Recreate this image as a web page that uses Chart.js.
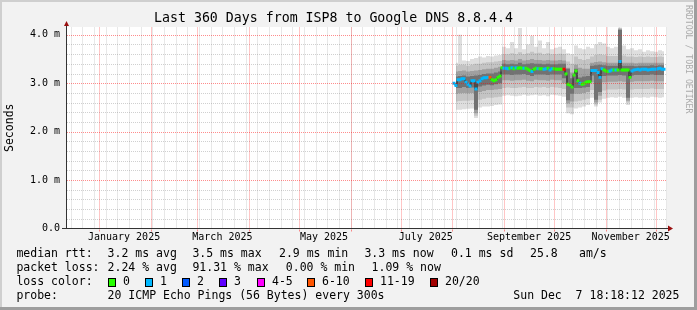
<!DOCTYPE html>
<html lang="en">
<head>
  <meta charset="UTF-8">
  <title>Last 360 Days from ISP8 to Google DNS 8.8.4.4</title>
  <script src="https://cdn.jsdelivr.net/npm/chart.js"></script>
  <style>
    body {
      margin: 0;
      padding: 0;
      background: #f2f2f2;
    }
    #wrap {
      width: 697px;
      height: 310px;
    }
  </style>
</head>
<body>
  <div id="wrap"><canvas id="smokeChart" width="697" height="310"></canvas></div>
  <script>
    const FONT = '"DejaVu Sans Mono", "Liberation Mono", monospace';
    const DAY_MS = 86400000;
    const windowStart = Date.UTC(2024, 11, 12, 18, 18, 12); // graph covers 360 days up to Dec 7 2025
    const windowDays = 360;

    // median rtt in ms, one value every 1.2 days
    const medianFirstDay = 232.2;
    const medianStep = 1.2;
    const medianRtt = [
      3.00, 2.95, 3.07, 3.07, 3.09, 3.09, 3.02, 2.98, 2.94, 3.05,
      3.05, 2.88, 3.02, 3.05, 3.09, 3.11, 3.11, 3.12, 3.12, 3.07,
      3.05, 3.07, 3.12, 3.15, 3.32, 3.31, 3.31, 3.30, 3.31, 3.32,
      3.30, 3.32, 3.31, 3.32, 3.31, 3.31, 3.31, 3.29, 3.26, 3.24,
      3.29, 3.31, 3.30, 3.30, 3.30, 3.29, 3.30, 3.31, 3.27, 3.30,
      3.30, 3.29, 3.29, 3.29, 3.29, 3.29, 3.19, 2.98, 2.96, 2.92,
      3.17, 3.25, 3.05, 3.00, 2.98, 2.99, 3.02, 3.03, 3.03, 3.26,
      3.26, 3.26, 3.22, 3.12, 3.30, 3.27, 3.25, 3.24, 3.25, 3.27,
      3.27, 3.27, 3.27, 3.45, 3.27, 3.27, 3.27, 3.27, 3.12, 3.25,
      3.27, 3.28, 3.29, 3.27, 3.29, 3.29, 3.29, 3.27, 3.28, 3.29,
      3.29, 3.29, 3.30, 3.31, 3.29, 3.29
    ];
    // loss bucket of each median point (index into lossLabels)
    const medianLoss = [
      1, 1, 1, 1, 1, 1, 1, 1, 1, 1,
      1, 1, 1, 1, 1, 1, 1, 1, 5, 0,
      0, 0, 0, 0, 0, 1, 1, 1, 0, 1,
      0, 1, 0, 0, 0, 1, 0, 0, 0, 1,
      0, 0, 1, 0, 0, 1, 1, 0, 1, 1,
      0, 0, 0, 0, 0, 6, 0, 0, 0, 0,
      0, 0, 0, 1, 0, 0, 0, 0, 0, 1,
      1, 1, 1, 1, 1, 0, 0, 0, 1, 1,
      0, 1, 0, 1, 0, 0, 0, 0, 0, 1,
      1, 1, 1, 1, 1, 1, 1, 1, 1, 1,
      1, 1, 1, 1, 1, 1
    ];

    // smoke (spread of the 20 pings), one column every 2.4 days
    const smokeFirstDay = 233.4;
    const smokeStep = 2.4;
    const smokeOuterHi = [
      3.42, 4.00, 3.47, 3.46, 3.50, 3.52, 3.55, 3.53, 3.56, 3.55, 3.57, 3.58,
      3.75, 3.72, 3.85, 3.72, 4.14, 3.70, 3.80, 3.98, 3.75, 3.88, 3.72, 3.85, 3.70, 3.73, 3.75, 3.70,
      3.62, 3.60, 3.78, 3.72, 3.70, 3.75,
      3.72, 3.80, 3.85, 3.82, 3.75, 3.72, 3.75, 4.15, 3.78, 3.70, 3.72, 3.68, 3.70, 3.65, 3.68, 3.66, 3.65, 3.68, 3.66
    ];
    const smokeOuterLo = [
      2.45, 2.45, 2.46, 2.47, 2.48, 2.28, 2.50, 2.52, 2.52, 2.53, 2.55, 2.56,
      2.74, 2.75, 2.74, 2.73, 2.74, 2.76, 2.74, 2.75, 2.76, 2.74, 2.75, 2.73, 2.76, 2.75, 2.74, 2.72,
      2.38, 2.36, 2.48, 2.50, 2.52, 2.55,
      2.70, 2.52, 2.60, 2.68, 2.70, 2.71, 2.70, 2.72, 2.70, 2.55, 2.70, 2.71, 2.70, 2.71, 2.70, 2.72, 2.71, 2.70, 2.71
    ];
    const smokeMidHi = [
      3.36, 3.38, 3.38, 3.36, 3.38, 3.40, 3.40, 3.42, 3.43, 3.43, 3.45, 3.46,
      3.60, 3.60, 3.62, 3.60, 3.64, 3.60, 3.62, 3.65, 3.62, 3.63, 3.60, 3.62, 3.60, 3.60, 3.61, 3.60,
      3.45, 3.40, 3.55, 3.50, 3.48, 3.50,
      3.55, 3.58, 3.60, 3.58, 3.56, 3.56, 3.56, 4.14, 3.57, 3.55, 3.55, 3.54, 3.55, 3.54, 3.55, 3.54, 3.54, 3.55, 3.54
    ];
    const smokeMidLo = [
      2.62, 2.63, 2.64, 2.64, 2.65, 2.33, 2.66, 2.68, 2.70, 2.70, 2.71, 2.72,
      2.90, 2.91, 2.90, 2.90, 2.91, 2.92, 2.90, 2.90, 2.92, 2.91, 2.92, 2.90, 2.92, 2.91, 2.90, 2.88,
      2.50, 2.50, 2.62, 2.64, 2.66, 2.68,
      2.86, 2.56, 2.66, 2.85, 2.87, 2.87, 2.87, 2.88, 2.87, 2.60, 2.87, 2.88, 2.88, 2.88, 2.88, 2.89, 2.88, 2.88, 2.88
    ];
    const smokeInnerHi = [
      3.24, 3.25, 3.26, 3.24, 3.25, 3.26, 3.27, 3.29, 3.30, 3.30, 3.32, 3.34,
      3.48, 3.47, 3.48, 3.47, 3.50, 3.47, 3.48, 3.50, 3.48, 3.48, 3.47, 3.48, 3.47, 3.47, 3.48, 3.47,
      3.32, 3.22, 3.38, 3.32, 3.30, 3.30,
      3.42, 3.44, 3.45, 3.43, 3.42, 3.42, 3.42, 4.12, 3.42, 3.42, 3.42, 3.41, 3.42, 3.42, 3.42, 3.42, 3.42, 3.42, 3.42
    ];
    const smokeInnerLo = [
      2.78, 2.79, 2.80, 2.79, 2.80, 2.38, 2.82, 2.84, 2.86, 2.86, 2.87, 2.88,
      3.06, 3.06, 3.05, 3.06, 3.06, 3.07, 3.05, 3.04, 3.07, 3.06, 3.06, 3.05, 3.07, 3.06, 3.06, 3.00,
      2.58, 2.62, 2.78, 2.78, 2.80, 2.82,
      3.02, 2.60, 2.74, 3.02, 3.03, 3.03, 3.03, 3.04, 3.03, 2.64, 3.03, 3.04, 3.04, 3.04, 3.04, 3.05, 3.04, 3.04, 3.04
    ];
    const smokeCoreHi = [
      3.14, 3.15, 3.16, 3.14, 3.15, 3.16, 3.17, 3.19, 3.20, 3.20, 3.22, 3.24,
      3.40, 3.39, 3.40, 3.39, 3.42, 3.39, 3.40, 3.41, 3.40, 3.40, 3.39, 3.40, 3.39, 3.39, 3.40, 3.40,
      3.30, 3.10, 3.30, 3.12, 3.14, 3.15,
      3.36, 3.37, 3.38, 3.37, 3.36, 3.36, 3.36, 4.10, 3.36, 3.36, 3.36, 3.35, 3.36, 3.36, 3.36, 3.37, 3.36, 3.37, 3.37
    ];
    const smokeCoreLo = [
      2.90, 2.90, 2.92, 2.90, 2.91, 2.45, 2.93, 2.95, 2.97, 2.96, 2.98, 3.00,
      3.18, 3.18, 3.17, 3.18, 3.18, 3.19, 3.17, 3.15, 3.18, 3.18, 3.18, 3.17, 3.18, 3.18, 3.18, 3.10,
      2.65, 2.78, 2.90, 2.90, 2.91, 2.92,
      3.16, 2.66, 2.82, 3.15, 3.16, 3.16, 3.16, 3.17, 3.16, 2.70, 3.16, 3.17, 3.17, 3.17, 3.17, 3.18, 3.17, 3.17, 3.17
    ];

    const lossLabels = ['0', '1', '2', '3', '4-5', '6-10', '11-19', '20/20'];
    const lossColors = ['#26ff00', '#00b8ff', '#0059ff', '#5e00ff', '#ff00ff', '#ff5500', '#ff0000', '#a10000'];
    const monthLabels = ['January 2025', 'March 2025', 'May 2025', 'July 2025', 'September 2025', 'November 2025'];
    const yGridStep = 0.2;
    const yMax = 4.16;

    const titleText = 'Last 360 Days from ISP8 to Google DNS 8.8.4.4';
    const rttStats = ['3.2 ms avg', '3.5 ms max', '2.9 ms min', '3.3 ms now', '0.1 ms sd', '25.8', 'am/s'];
    const lossStats = ['2.24 % avg', '91.31 % max', '0.00 % min', '1.09 % now'];
    const probeText = '20 ICMP Echo Pings (56 Bytes) every 300s';
    const stampText = 'Sun Dec  7 18:18:12 2025';

    // x axis is "days since window start"
    const dayOf = (y, m, d) => (Date.UTC(y, m, d) - windowStart) / DAY_MS;
    const xTicks = [];
    for (let d = dayOf(2024, 11, 15); d < windowDays; d += 7) xTicks.push({ day: d, kind: 'week', label: '' });
    for (let m = 0; m < 12; m++) xTicks.push({ day: dayOf(2025, m, 1), kind: 'month', label: '' });
    monthLabels.forEach((text, k) => xTicks.push({ day: dayOf(2025, 2 * k, 16), kind: 'label', label: text }));
    xTicks.sort((a, b) => a.day - b.day);

    const yTicks = [];
    for (let k = 0; k * yGridStep <= 4.0001; k++) yTicks.push({ value: +(k * yGridStep).toFixed(1), major: k % 5 === 0 });

    const MAJOR = 'rgba(255, 0, 0, 0.45)';
    const MINOR = 'rgba(120, 120, 120, 0.35)';
    const NONE = 'rgba(0, 0, 0, 0)';

    const toPoints = (first, step, values) => values.map((v, i) => ({ x: first + i * step, y: v }));

    function smokeBand(lo, hi, color, order) {
      const common = {
        borderColor: NONE,
        borderWidth: 0,
        pointRadius: 0,
        stepped: 'middle',
        order: order,
      };
      return [
        Object.assign({ data: toPoints(smokeFirstDay, smokeStep, lo), fill: false }, common),
        Object.assign({ data: toPoints(smokeFirstDay, smokeStep, hi), fill: '-1', backgroundColor: color }, common),
      ];
    }

    const medianPoints = toPoints(medianFirstDay, medianStep, medianRtt);

    const datasets = [
      ...smokeBand(smokeOuterLo, smokeOuterHi, '#dedede', 10),
      ...smokeBand(smokeMidLo, smokeMidHi, '#c4c4c4', 9),
      ...smokeBand(smokeInnerLo, smokeInnerHi, '#a0a0a0', 8),
      ...smokeBand(smokeCoreLo, smokeCoreHi, '#727272', 7),
      {
        // thin connector between median steps
        data: medianPoints,
        borderColor: '#202020',
        borderWidth: 1,
        stepped: 'middle',
        pointRadius: 0,
        fill: false,
        order: 1,
      },
      {
        data: medianPoints,
        showLine: false,
        pointStyle: 'rect',
        pointRadius: 2.12,
        pointBorderWidth: 0,
        pointBackgroundColor: medianLoss.map(k => lossColors[k]),
        fill: false,
        order: 0,
      },
    ];

    // dotted rrdtool style grid, placed with the chart's own scales
    const rrdGrid = {
      id: 'rrdGrid',
      afterDatasetsDraw(chart) {
        const { ctx, chartArea: a, scales } = chart;
        ctx.save();
        ctx.lineWidth = 1;
        ctx.setLineDash([1, 1]);
        [false, true].forEach(major => {
          ctx.strokeStyle = major ? MAJOR : MINOR;
          ctx.beginPath();
          yTicks.filter(t => t.major === major && t.value > 0).forEach(t => {
            const py = Math.round(scales.y.getPixelForValue(t.value)) + 0.5;
            ctx.moveTo(a.left, py);
            ctx.lineTo(a.right, py);
          });
          xTicks.filter(t => t.kind === (major ? 'month' : 'week')).forEach(t => {
            const px = Math.round(scales.x.getPixelForValue(t.day)) + 0.5;
            ctx.moveTo(px, a.bottom);
            ctx.lineTo(px, a.top);
          });
          ctx.stroke();
        });
        // short marks under the time axis
        ctx.setLineDash([]);
        ctx.strokeStyle = MAJOR;
        ctx.beginPath();
        xTicks.filter(t => t.kind === 'month').forEach(t => {
          const px = Math.round(scales.x.getPixelForValue(t.day)) + 0.5;
          ctx.moveTo(px, a.bottom + 1);
          ctx.lineTo(px, a.bottom + 3);
        });
        ctx.stroke();
        ctx.restore();
      },
    };

    // background, frame, axes with arrows, watermark and the text legend
    const rrdDecor = {
      id: 'rrdDecor',
      beforeDraw(chart) {
        const { ctx, chartArea: a, width, height } = chart;
        ctx.save();
        ctx.fillStyle = '#f2f2f2';
        ctx.fillRect(0, 0, width, height);
        ctx.fillStyle = '#cfcfcf';
        ctx.fillRect(0, 0, width, 2);
        ctx.fillRect(0, 0, 2, height);
        ctx.fillStyle = '#9e9e9e';
        ctx.fillRect(0, height - 3, width, 3);
        ctx.fillRect(width - 3, 0, 3, height);
        ctx.fillStyle = '#ffffff';
        ctx.fillRect(a.left, a.top, a.right - a.left, a.bottom - a.top);
        ctx.restore();
      },
      afterDraw(chart) {
        const { ctx, chartArea: a } = chart;
        ctx.save();

        // axes
        ctx.strokeStyle = '#333333';
        ctx.lineWidth = 1;
        ctx.beginPath();
        ctx.moveTo(a.left - 0.5, a.bottom + 0.5);
        ctx.lineTo(a.left - 0.5, a.top - 1);
        ctx.moveTo(a.left - 5, a.bottom);
        ctx.lineTo(a.right + 1, a.bottom);
        ctx.stroke();

        ctx.fillStyle = '#9a1010';
        ctx.beginPath();
        ctx.moveTo(a.left - 3, a.top - 1);
        ctx.lineTo(a.left + 2, a.top - 1);
        ctx.lineTo(a.left - 0.5, a.top - 6);
        ctx.closePath();
        ctx.fill();
        ctx.beginPath();
        ctx.moveTo(a.right + 1, a.bottom - 3);
        ctx.lineTo(a.right + 1, a.bottom + 3);
        ctx.lineTo(a.right + 6, a.bottom);
        ctx.closePath();
        ctx.fill();

        // watermark
        ctx.save();
        ctx.translate(688, 5);
        ctx.rotate(Math.PI / 2);
        ctx.font = '8.2px ' + FONT;
        ctx.fillStyle = '#ababab';
        ctx.textBaseline = 'middle';
        ctx.textAlign = 'left';
        ctx.fillText('RRDTOOL / TOBI OETIKER', 0, 0);
        ctx.restore();

        // legend rows
        const rows = [254.3, 268.3, 282.3, 296.3];
        const rttCols = [107.6, 192.4, 279, 364.4, 451, 530, 579];
        const lossCols = [107.6, 192.4, 285.8, 371.6];
        const swatchCols = [108, 145, 182, 219, 257, 307, 365, 430];
        ctx.font = '11.5px ' + FONT;
        ctx.fillStyle = '#000000';
        ctx.textBaseline = 'middle';
        ctx.textAlign = 'left';
        ctx.fillText('median rtt:', 16.4, rows[0]);
        rttStats.forEach((t, i) => ctx.fillText(t, rttCols[i], rows[0]));
        ctx.fillText('packet loss:', 16.4, rows[1]);
        lossStats.forEach((t, i) => ctx.fillText(t, lossCols[i], rows[1]));
        ctx.fillText('loss color:', 16.4, rows[2]);
        lossLabels.forEach((t, i) => {
          const x = swatchCols[i];
          ctx.fillStyle = lossColors[i];
          ctx.fillRect(x, 278, 8, 9);
          ctx.strokeStyle = '#000000';
          ctx.strokeRect(x + 0.5, 278.5, 7, 8);
          ctx.fillStyle = '#000000';
          ctx.fillText(t, x + 15, rows[2]);
        });
        ctx.fillText('probe:', 16.4, rows[3]);
        ctx.fillText(probeText, 107.6, rows[3]);
        ctx.fillText(stampText, 513.3, rows[3]);
        ctx.restore();
      },
    };

    new Chart(document.getElementById('smokeChart'), {
      type: 'line',
      data: { datasets },
      plugins: [rrdGrid, rrdDecor],
      options: {
        responsive: false,
        animation: false,
        events: [],
        layout: { padding: { top: 0, left: 0, right: 30, bottom: 0 } },
        plugins: {
          legend: { display: false },
          tooltip: { enabled: false },
          title: {
            display: true,
            text: titleText,
            color: '#000000',
            font: { family: FONT, size: 13.25, weight: 'normal' },
            padding: { top: 10.5, bottom: 0.6 },
          },
        },
        scales: {
          x: {
            type: 'linear',
            min: 0,
            max: windowDays,
            afterBuildTicks: (scale) => { scale.ticks = xTicks.map(t => ({ value: t.day })); },
            afterFit: (scale) => { scale.height = 81.5; },
            ticks: {
              autoSkip: false,
              maxRotation: 0,
              minRotation: 0,
              padding: 3,
              color: '#000000',
              font: { family: FONT, size: 10 },
              callback: (value, index) => xTicks[index].label,
            },
            grid: { display: false, drawTicks: false, tickLength: 0 },
            border: { display: false },
          },
          y: {
            type: 'linear',
            min: 0,
            max: yMax,
            afterBuildTicks: (scale) => { scale.ticks = yTicks.map(t => ({ value: t.value })); },
            afterFit: (scale) => { scale.width = 67; },
            ticks: {
              autoSkip: false,
              padding: 7,
              color: '#000000',
              font: { family: FONT, size: 10 },
              callback: (value, index) => {
                const t = yTicks[index];
                if (!t.major) return '';
                return t.value === 0 ? '0.0' : t.value.toFixed(1) + ' m';
              },
            },
            grid: { display: false, drawTicks: false, tickLength: 0 },
            border: { display: false },
            title: {
              display: true,
              text: 'Seconds',
              color: '#000000',
              font: { family: FONT, size: 11.5 },
              padding: { top: 3, bottom: 0 },
            },
          },
        },
      },
    });
  </script>
</body>
</html>
